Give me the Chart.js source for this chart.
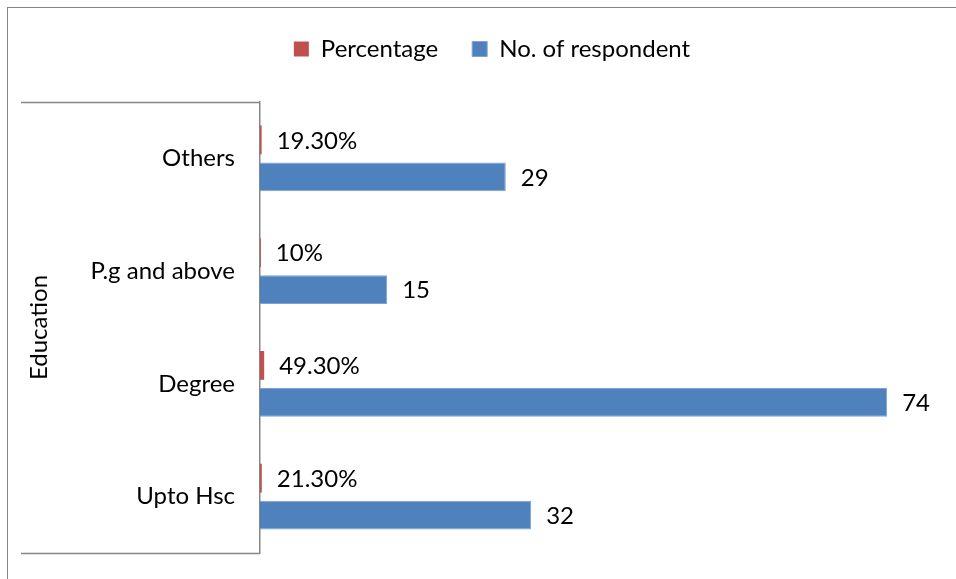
<!DOCTYPE html>
<html>
<head>
<meta charset="utf-8">
<title>Education</title>
<script src="https://cdn.jsdelivr.net/npm/chart.js@4"></script>
<style>
  html, body { margin: 0; padding: 0; background: #fff; }
  canvas { display: block; }
</style>
</head>
<body>
<canvas id="BarChart" width="956" height="579"></canvas>
<script>
// categories top to bottom
const categories = ["Others", "P.g and above", "Degree", "Upto Hsc"];
// share of respondents (fraction) and head count
const percentage = [0.193, 0.10, 0.493, 0.213];
const respondents = [29, 15, 74, 32];

const seriesNames = ["Percentage", "No. of respondent"];
const axisTitle = "Education";

const FONT = "Lato, 'Open Sans', sans-serif";
const LINE = "#868686";

function pctText(v) {
  const p = Math.round(v * 10000) / 100;
  return Number.isInteger(p) ? p + "%" : p.toFixed(2) + "%";
}

// extra room under the legend, and nudge it right a little
const legendTweak = {
  id: "legendTweak",
  beforeInit(chart) {
    const legend = chart.legend;
    const fit = legend.fit;
    legend.fit = function () {
      fit.call(this);
      this.height += 31;
    };
    const draw = legend.draw;
    legend.draw = function () {
      const ctx = this.ctx;
      ctx.save();
      ctx.translate(23, 0);
      draw.call(this);
      ctx.restore();
    };
  }
};

// value labels to the right of each bar
const barLabels = {
  id: "barLabels",
  afterDatasetsDraw(chart) {
    const ctx = chart.ctx;
    ctx.save();
    ctx.font = "24px " + FONT;
    ctx.fillStyle = "#000";
    ctx.textBaseline = "middle";
    ctx.textAlign = "left";
    chart.data.datasets.forEach((ds, di) => {
      const meta = chart.getDatasetMeta(di);
      meta.data.forEach((bar, i) => {
        const v = ds.data[i];
        const txt = di === 0 ? pctText(v) : String(v);
        ctx.fillText(txt, bar.x + 15, bar.y + 1);
      });
    });
    ctx.restore();
  }
};

// outer frame and the bracket around the category labels
const frame = {
  id: "frame",
  afterDraw(chart) {
    const ctx = chart.ctx;
    const a = chart.chartArea;
    ctx.save();
    ctx.strokeStyle = LINE;
    ctx.lineWidth = 1;
    ctx.strokeRect(7.5, 7.5, 1200, 1200);
    ctx.lineWidth = 1.5;
    ctx.beginPath();
    ctx.moveTo(21, Math.round(a.top) + 0.5);
    ctx.lineTo(a.left, Math.round(a.top) + 0.5);
    ctx.moveTo(21, Math.round(a.bottom) + 0.5);
    ctx.lineTo(a.left, Math.round(a.bottom) + 0.5);
    ctx.stroke();
    ctx.restore();
  }
};

const barCTX = document.getElementById("BarChart").getContext("2d");

const config = {
  type: "bar",
  data: {
    labels: categories,
    datasets: [
      {
        label: seriesNames[0],
        data: percentage,
        backgroundColor: "#C0504D",
        borderWidth: 0,
      },
      {
        label: seriesNames[1],
        data: respondents,
        backgroundColor: "#4F81BD",
        borderColor: "#7EA3D2",
        borderWidth: 1,
      },
    ],
  },
  options: {
    indexAxis: "y",
    responsive: false,
    animation: false,
    categoryPercentage: 0.655,
    barPercentage: 0.78,
    layout: {
      padding: { top: 3, right: 18, bottom: 26, left: 0 },
    },
    plugins: {
      legend: {
        display: true,
        position: "top",
        labels: {
          font: { size: 24, family: FONT },
          color: "#000",
          boxWidth: 15,
          boxHeight: 15,
          padding: 34,
        },
      },
      tooltip: { enabled: false },
    },
    scales: {
      x: {
        display: false,
        min: 0,
        max: 80,
      },
      y: {
        afterFit(scale) {
          scale.width = 260;
          scale.paddingTop = 0;
          scale.paddingBottom = 0;
        },
        grid: { display: false, drawTicks: false },
        border: { display: true, color: LINE, width: 1.5 },
        ticks: {
          padding: 25,
          color: "#000",
          font: { size: 24, family: FONT },
        },
        title: {
          display: true,
          text: axisTitle,
          color: "#000",
          font: { size: 24, family: FONT },
          padding: { top: 25, bottom: 0 },
        },
      },
    },
  },
  plugins: [legendTweak, barLabels, frame],
};

new Chart(barCTX, config);
</script>
</body>
</html>
